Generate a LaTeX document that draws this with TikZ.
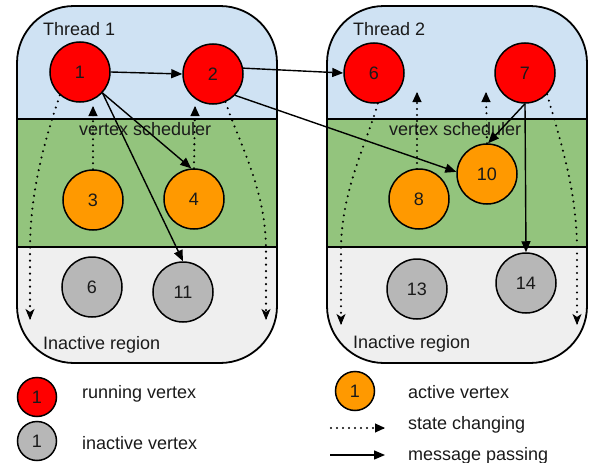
\documentclass[tikz,border=0pt]{standalone}
\usepackage{fontspec}
\setmainfont{Liberation Sans}
\usetikzlibrary{arrows.meta}
\definecolor{bandblue}{HTML}{CFE2F3}
\definecolor{bandgreen}{HTML}{93C47D}
\definecolor{bandgray}{HTML}{EFEFEF}
\definecolor{vred}{HTML}{FF0000}
\definecolor{vorange}{HTML}{FF9900}
\definecolor{vgray}{HTML}{B7B7B7}
\definecolor{ink}{HTML}{1A1A1A}
\begin{document}
\begin{tikzpicture}[x=1pt,y=-1pt,
  lbl/.style={font=\fontsize{18}{21}\selectfont, text=ink, inner sep=0pt},
  vtx/.style={circle, draw=black, line width=1.5pt, minimum size=60pt, inner sep=0pt, font=\fontsize{18}{21}\selectfont, text=ink},
  lvtx/.style={minimum size=39pt},
  run/.style={vtx, fill=vred},
  act/.style={vtx, fill=vorange},
  ina/.style={vtx, fill=vgray},
  msg/.style={line width=1.4pt, -{Triangle[length=11pt,width=9pt]}},
  stc/.style={line width=2.3pt, line cap=round, dash pattern=on 0pt off 6pt, shorten >=8pt},
  stcc/.style={line width=2.3pt, line cap=round, dash pattern=on 0pt off 6.5pt, shorten >=8pt},
  tipt/.style={line width=1pt, -{Triangle[length=10pt,width=9pt]}},
  tips/.style={line width=1pt, -{Stealth[length=11pt,width=9pt,inset=3pt]}},
  frame/.style={draw=black, line width=1.8pt}
]
\useasboundingbox (0,0) rectangle (590,463);

% ---------- Thread 1 box ----------
\begin{scope}
  \clip[rounded corners=57pt] (17,6) rectangle (277,363);
  \fill[bandblue] (17,6) rectangle (277,119);
  \fill[bandgreen] (17,119) rectangle (277,247);
  \fill[bandgray] (17,247) rectangle (277,363);
\end{scope}
\draw[frame] (17,119) -- (277,119);
\draw[frame] (17,247) -- (277,247);
\draw[frame, rounded corners=57pt] (17,6) rectangle (277,363);

% ---------- Thread 2 box ----------
\begin{scope}
  \clip[rounded corners=57pt] (327,6) rectangle (587,363);
  \fill[bandblue] (327,6) rectangle (587,119);
  \fill[bandgreen] (327,119) rectangle (587,247);
  \fill[bandgray] (327,247) rectangle (587,363);
\end{scope}
\draw[frame] (327,119) -- (587,119);
\draw[frame] (327,247) -- (587,247);
\draw[frame, rounded corners=57pt] (327,6) rectangle (587,363);

% ---------- labels ----------
\node[lbl, anchor=base west] (t1) at (43,35) {Thread 1};
\node[lbl, anchor=base west] (t2) at (353,35) {Thread 2};
\node[lbl, anchor=base west] (vs1) at (79,135) {vertex scheduler};
\node[lbl, anchor=base west] (vs2) at (389,135) {vertex scheduler};
\node[lbl, anchor=base west] (ir1) at (43,349) {Inactive region};
\node[lbl, anchor=base west] (ir2) at (353,348) {Inactive region};

% ---------- vertices ----------
\node[run] (n1) at (80,72) {1};
\node[run] (n2) at (213,74) {2};
\node[act] (n3) at (93,200) {3};
\node[act] (n4) at (194,199) {4};
\node[ina] (g6) at (92,287) {6};
\node[ina] (n11) at (183,292) {11};

\node[run] (n6) at (374,73) {6};
\node[run] (n7) at (525,73) {7};
\node[act] (n10) at (487,174) {10};
\node[act] (n8) at (419,199) {8};
\node[ina] (n13) at (417,289) {13};
\node[ina] (n14) at (526,283) {14};

% ---------- state changing (dotted) ----------
\coordinate (u3) at (93,106);
\coordinate (u4) at (195,106);
\coordinate (u8) at (417,92);
\coordinate (u10) at (486,92);
\draw[stc] (n3.north) -- (u3);
\draw[stc] (n4.north) -- (u4);
\draw[stc] (417,169) -- (u8);
\draw[stc] (n10.north) -- (u10);
\draw[tipt] ([yshift=-1pt]u3) -- (u3);
\draw[tipt] ([yshift=-1pt]u4) -- (u4);
\draw[tipt] ([yshift=-1pt]u8) -- (u8);
\draw[tipt] ([yshift=-1pt]u10) -- (u10);

\coordinate (d1) at (30,320);
\coordinate (d2) at (266,320);
\coordinate (d6) at (341,325);
\coordinate (d7) at (577,325);
\draw[stcc] (n1.-131) .. controls (45,140) and (30,190) .. (30,250) -- (d1);
\draw[stcc] (n2.-66) .. controls (240,145) and (266,190) .. (266,250) -- (d2);
\draw[stcc] (n6.-83) .. controls (368,140) and (341,190) .. (341,250) -- (d6);
\draw[stcc] (n7.-44) .. controls (560,140) and (577,190) .. (577,250) -- (d7);
\draw[tips] ([yshift=1pt]d1) -- (d1);
\draw[tips] ([yshift=1pt]d2) -- (d2);
\draw[tips] ([yshift=1pt]d6) -- (d6);
\draw[tips] ([yshift=1pt]d7) -- (d7);

% ---------- message passing ----------
\draw[msg] (n1.east) -- (n2.west);
\draw[msg] (n1.-43) -- (n4.95);
\draw[msg] (n1.-43) -- (n11.north);
\draw[msg] (n2.11) -- (n6.west);
\draw[msg] (n2.-44) -- (n10.176);
\draw[msg] (n7.south) -- (n10.88);
\draw[msg] (n7.south) -- (n14.north);

% ---------- legend ----------
\node[run, lvtx] (lr) at (37,397) {1};
\node[ina, lvtx] (lg) at (37,441) {1};
\node[act, lvtx] (lo) at (355,391) {1};
\node[lbl, anchor=base west] (ltr) at (82,398) {running vertex};
\node[lbl, anchor=base west] (lti) at (82,449) {inactive vertex};
\node[lbl, anchor=base west] (lta) at (408,398) {active vertex};
\node[lbl, anchor=base west] (lts) at (408,429) {state changing};
\node[lbl, anchor=base west] (ltm) at (408,460) {message passing};
\coordinate (ls1) at (331,428);
\coordinate (ls2) at (385,428);
\coordinate (lm1) at (330,455);
\coordinate (lm2) at (385,455);
\draw[stc] (ls1) -- (ls2);
\draw[tipt] ([xshift=-1pt]ls2) -- (ls2);
\draw[msg] (lm1) -- (lm2);
\end{tikzpicture}
\end{document}
